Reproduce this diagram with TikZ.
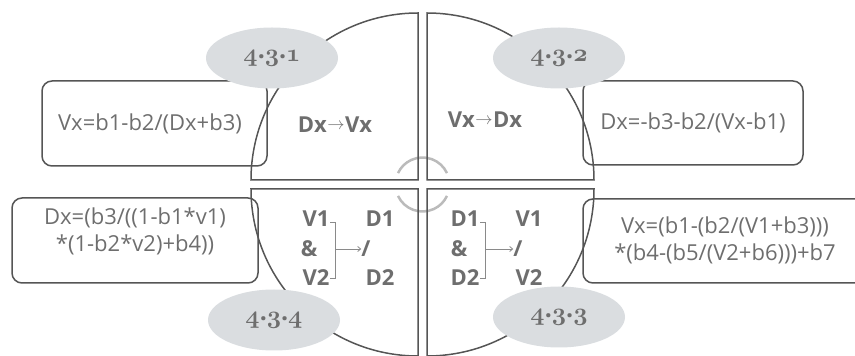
\documentclass[tikz,border=0pt]{standalone}
\usepackage{fontspec}
\setmainfont{Open Sans}
\usetikzlibrary{arrows.meta,shapes.geometric}
\definecolor{linec}{HTML}{555555}
\definecolor{txtc}{HTML}{6E6E6E}
\definecolor{ellc}{HTML}{DADDE0}
\definecolor{arcc}{HTML}{BBBBBB}
\definecolor{brc}{HTML}{8A8A8A}
\newcommand{\osn}[1]{{\usefont{OML}{cmm}{b}{it}#1}}
\newcommand{\tdot}{{\bfseries\raisebox{-4pt}{·}}}
\newcommand{\tagtxt}[3]{\osn{#1}\tdot\osn{#2}\tdot\osn{#3}}
\newcommand{\rarr}{\kern0.5pt\raisebox{3pt}{\fontsize{16}{16}\selectfont$\rightarrow$}\kern0.5pt}
\tikzset{
  quad/.style={draw=linec, line width=1.5pt},
  eqbox/.style={draw=linec, line width=1.5pt, rounded corners=10pt},
  eqtext/.style={text=txtc, font=\fontsize{22}{27}\selectfont, align=center, inner sep=0pt},
  lab/.style={text=txtc, font=\fontsize{22}{22}\selectfont\bfseries, inner sep=0pt},
  tagell/.style={ellipse, fill=ellc, inner sep=0pt, minimum width=132pt, minimum height=61pt,
     text=txtc, font=\fontsize{24.88}{26}\selectfont},
  brk/.style={draw=brc, line width=0.8pt},
  brarrow/.style={draw=brc, line width=0.8pt, -{Straight Barb[length=3pt,width=5pt]}},
  centerarc/.style={draw=arcc, line width=2.5pt}
}
\begin{document}
\begin{tikzpicture}[x=1pt,y=1pt]
\useasboundingbox (0,0) rectangle (855,356);
\clip (0,0) rectangle (855,356);
% centre arcs
\coordinate (mid) at (422.5,171.5);
\draw[centerarc] (mid) ++(25:27pt) arc[start angle=25,end angle=155,radius=27pt];
\draw[centerarc] (mid) ++(205:27pt) arc[start angle=205,end angle=335,radius=27pt];
% quadrants
\coordinate (ctl) at (418,176);
\coordinate (ctr) at (427,176);
\coordinate (cbl) at (418,167);
\coordinate (cbr) at (427,167);
\draw[quad] (ctl) -- ++(0,167) arc[start angle=90,end angle=180,radius=167pt] -- cycle;
\draw[quad] (ctr) -- ++(0,167) arc[start angle=90,end angle=0,radius=167pt] -- cycle;
\draw[quad] (cbl) -- ++(0,-167) arc[start angle=270,end angle=180,radius=167pt] -- cycle;
\draw[quad] (cbr) -- ++(0,-167) arc[start angle=-90,end angle=0,radius=167pt] -- cycle;
% equation boxes
\draw[eqbox] (42,190) rectangle (267,275);
\draw[eqbox] (583,191) rectangle (803,275);
\draw[eqbox] (12,73) rectangle (258,158);
\draw[eqbox] (583,73) rectangle (880,157);
\node[eqtext] (eq1) at (150,232) {Vx=b1-b2/(Dx+b3)};
\node[eqtext] (eq2) at (693,233) {Dx=-b3-b2/(Vx-b1)};
\node[eqtext] (eq3) at (135,125) {Dx=(b3/((1-b1*v1)\\*(1-b2*v2)+b4))};
\node[eqtext] (eq4) at (725,116) {Vx=(b1-(b2/(V1+b3)))\\*(b4-(b5/(V2+b6)))+b7};
% quadrant titles
\node[lab] (t1) at (335,231) {Dx\rarr Vx};
\node[lab] (t2) at (485,236) {Vx\rarr Dx};
% bottom-left
\node[lab] (blv1) at (316,137) {V1};
\node[lab] (blamp) at (309,107) {\&};
\node[lab] (blv2) at (316,78) {V2};
\node[lab] (bld1) at (380,137) {D1};
\node[lab] (blsl) at (366,107) {/};
\node[lab] (bld2) at (380,78) {D2};
\coordinate (blt) at (335,134);
\coordinate (blb) at (335,78);
\draw[brk] (blt) ++(-5,0) -- (blt) -- (blb) -- ++(-5,0);
\draw[brarrow] (blt |- blamp) -- (blsl.west);
% bottom-right
\node[lab] (brd1) at (465,137) {D1};
\node[lab] (bramp) at (459,107) {\&};
\node[lab] (brd2) at (465,78) {D2};
\node[lab] (brv1) at (529,137) {V1};
\node[lab] (brsl) at (518,107) {/};
\node[lab] (brv2) at (529,78) {V2};
\coordinate (brt) at (485,134);
\coordinate (brb) at (485,78);
\draw[brk] (brt) ++(-5,0) -- (brt) -- (brb) -- ++(-5,0);
\draw[brarrow] (brt |- bramp) -- (brsl.west);
% tag ellipses
\node[tagell] (tag1) at (272,298) {\tagtxt{4}{3}{1}};
\node[tagell] (tag2) at (559,298) {\tagtxt{4}{3}{2}};
\node[tagell] (tag4) at (274,36) {\tagtxt{4}{3}{4}};
\node[tagell] (tag3) at (559,39) {\tagtxt{4}{3}{3}};
\end{tikzpicture}
\end{document}
